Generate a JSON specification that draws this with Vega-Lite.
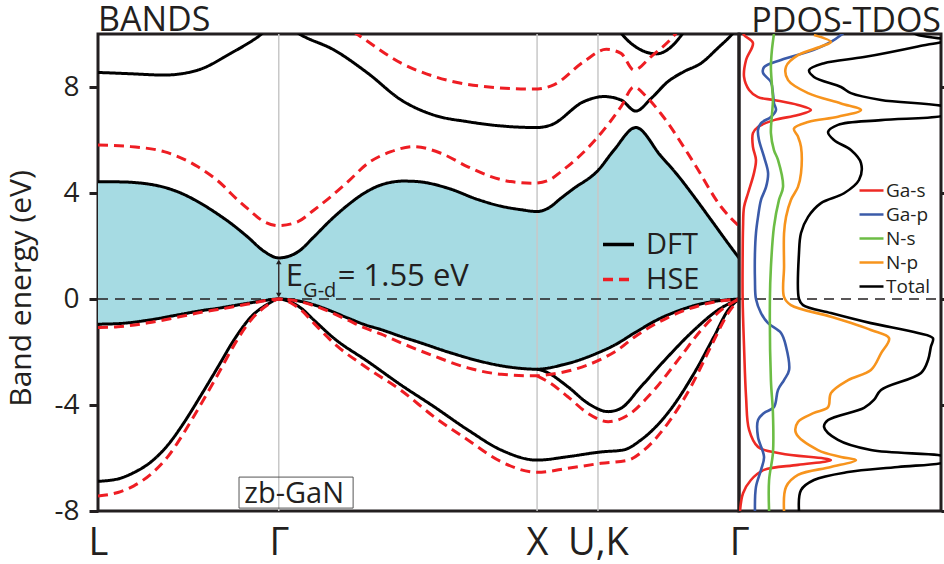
{
  "$schema": "https://vega.github.io/schema/vega-lite/v6.json",
  "padding": {"left": 5, "top": 2, "right": 0, "bottom": 0},
  "bounds": "flush",
  "spacing": 0,
  "config": {
    "font": "Open Sans",
    "view": {"stroke": "#231f20", "strokeWidth": 3},
    "axis": {"labelColor": "#231f20", "titleColor": "#231f20", "tickColor": "#231f20", "grid": false, "domain": false, "labelFont": "Open Sans", "titleFont": "Open Sans", "titleFontWeight": "normal"},
    "title": {"font": "Open Sans", "fontWeight": "normal", "fontSize": 34, "color": "#231f20", "baseline": "alphabetic", "offset": -4.5, "frame": "group"},
    "legend": {"labelFont": "Open Sans", "labelColor": "#231f20", "padding": 0}
  },
  "resolve": {"scale": {"color": "independent", "strokeDash": "independent"}, "legend": {"color": "independent", "strokeDash": "independent"}},
  "datasets": {
    "bands": [
      {"m":"DFT","b":"v3","k":0,"E":-0.95},{"m":"DFT","b":"v3","k":3.1,"E":-0.93},{"m":"DFT","b":"v3","k":7.8,"E":-0.8},{"m":"DFT","b":"v3","k":12.9,"E":-0.58},{"m":"DFT","b":"v3","k":16.1,"E":-0.44},{"m":"DFT","b":"v3","k":18.7,"E":-0.35},{"m":"DFT","b":"v3","k":20.7,"E":-0.27},{"m":"DFT","b":"v3","k":23.4,"E":-0.16},{"m":"DFT","b":"v3","k":25.9,"E":-0.06},{"m":"DFT","b":"v3","k":28.2,"E":0},{"m":"DFT","b":"v3","k":31.2,"E":-0.07},{"m":"DFT","b":"v3","k":33.7,"E":-0.22},{"m":"DFT","b":"v3","k":36.3,"E":-0.45},{"m":"DFT","b":"v3","k":39.0,"E":-0.72},{"m":"DFT","b":"v3","k":41.5,"E":-0.96},{"m":"DFT","b":"v3","k":44.1,"E":-1.15},{"m":"DFT","b":"v3","k":47.7,"E":-1.45},{"m":"DFT","b":"v3","k":49.9,"E":-1.62},{"m":"DFT","b":"v3","k":54.6,"E":-2.0},{"m":"DFT","b":"v3","k":59.3,"E":-2.33},{"m":"DFT","b":"v3","k":62.9,"E":-2.52},{"m":"DFT","b":"v3","k":66.0,"E":-2.62},{"m":"DFT","b":"v3","k":68.5,"E":-2.65},{"m":"DFT","b":"v3","k":70.4,"E":-2.6},{"m":"DFT","b":"v3","k":72.2,"E":-2.5},{"m":"DFT","b":"v3","k":74.1,"E":-2.38},{"m":"DFT","b":"v3","k":78.0,"E":-2.03},{"m":"DFT","b":"v3","k":80.5,"E":-1.75},{"m":"DFT","b":"v3","k":83.9,"E":-1.25},{"m":"DFT","b":"v3","k":87.8,"E":-0.72},{"m":"DFT","b":"v3","k":90.5,"E":-0.45},{"m":"DFT","b":"v3","k":93.0,"E":-0.25},{"m":"DFT","b":"v3","k":95.6,"E":-0.11},{"m":"DFT","b":"v3","k":98.3,"E":-0.03},{"m":"DFT","b":"v3","k":100,"E":0},
      {"m":"DFT","b":"c1","k":0,"E":4.42},{"m":"DFT","b":"c1","k":3.1,"E":4.42},{"m":"DFT","b":"c1","k":7.8,"E":4.34},{"m":"DFT","b":"c1","k":12.9,"E":4.0},{"m":"DFT","b":"c1","k":16.1,"E":3.6},{"m":"DFT","b":"c1","k":18.7,"E":3.2},{"m":"DFT","b":"c1","k":20.7,"E":2.86},{"m":"DFT","b":"c1","k":23.4,"E":2.33},{"m":"DFT","b":"c1","k":25.9,"E":1.8},{"m":"DFT","b":"c1","k":28.2,"E":1.55},{"m":"DFT","b":"c1","k":31.2,"E":1.78},{"m":"DFT","b":"c1","k":33.7,"E":2.35},{"m":"DFT","b":"c1","k":36.3,"E":2.98},{"m":"DFT","b":"c1","k":39.0,"E":3.55},{"m":"DFT","b":"c1","k":41.5,"E":3.99},{"m":"DFT","b":"c1","k":44.1,"E":4.3},{"m":"DFT","b":"c1","k":47.7,"E":4.45},{"m":"DFT","b":"c1","k":49.9,"E":4.43},{"m":"DFT","b":"c1","k":54.6,"E":4.18},{"m":"DFT","b":"c1","k":59.3,"E":3.75},{"m":"DFT","b":"c1","k":62.9,"E":3.5},{"m":"DFT","b":"c1","k":66.0,"E":3.37},{"m":"DFT","b":"c1","k":68.5,"E":3.3},{"m":"DFT","b":"c1","k":70.4,"E":3.45},{"m":"DFT","b":"c1","k":72.2,"E":3.8},{"m":"DFT","b":"c1","k":74.1,"E":4.15},{"m":"DFT","b":"c1","k":78.0,"E":4.85},{"m":"DFT","b":"c1","k":80.5,"E":5.62},{"m":"DFT","b":"c1","k":83.9,"E":6.47},{"m":"DFT","b":"c1","k":87.8,"E":5.4},{"m":"DFT","b":"c1","k":90.5,"E":4.65},{"m":"DFT","b":"c1","k":93.0,"E":3.86},{"m":"DFT","b":"c1","k":95.6,"E":3.0},{"m":"DFT","b":"c1","k":98.3,"E":2.1},{"m":"DFT","b":"c1","k":100,"E":1.55},
      {"m":"DFT","b":"v1","k":0,"E":-6.88},{"m":"DFT","b":"v1","k":3.1,"E":-6.79},{"m":"DFT","b":"v1","k":5.6,"E":-6.55},{"m":"DFT","b":"v1","k":8.3,"E":-6.14},{"m":"DFT","b":"v1","k":10.9,"E":-5.51},{"m":"DFT","b":"v1","k":13.4,"E":-4.67},{"m":"DFT","b":"v1","k":16.1,"E":-3.62},{"m":"DFT","b":"v1","k":18.7,"E":-2.57},{"m":"DFT","b":"v1","k":21.2,"E":-1.55},{"m":"DFT","b":"v1","k":23.9,"E":-0.67},{"m":"DFT","b":"v1","k":26.5,"E":-0.19},{"m":"DFT","b":"v1","k":28.2,"E":0},{"m":"DFT","b":"v1","k":30.1,"E":-0.12},{"m":"DFT","b":"v1","k":31.7,"E":-0.35},{"m":"DFT","b":"v1","k":33.7,"E":-0.8},{"m":"DFT","b":"v1","k":36.8,"E":-1.48},{"m":"DFT","b":"v1","k":42.1,"E":-2.36},{"m":"DFT","b":"v1","k":47.3,"E":-3.25},{"m":"DFT","b":"v1","k":52.4,"E":-4.06},{"m":"DFT","b":"v1","k":57.7,"E":-4.94},{"m":"DFT","b":"v1","k":62.9,"E":-5.7},{"m":"DFT","b":"v1","k":68.5,"E":-6.08},{"m":"DFT","b":"v1","k":73.3,"E":-5.95},{"m":"DFT","b":"v1","k":78.5,"E":-5.77},{"m":"DFT","b":"v1","k":81.9,"E":-5.7},{"m":"DFT","b":"v1","k":84.7,"E":-5.32},{"m":"DFT","b":"v1","k":88.9,"E":-4.3},{"m":"DFT","b":"v1","k":93.0,"E":-2.8},{"m":"DFT","b":"v1","k":96.1,"E":-1.42},{"m":"DFT","b":"v1","k":98.3,"E":-0.42},{"m":"DFT","b":"v1","k":100,"E":0},
      {"m":"DFT","b":"v2","k":68.5,"E":-2.65},{"m":"DFT","b":"v2","k":69.6,"E":-2.72},{"m":"DFT","b":"v2","k":73.3,"E":-3.31},{"m":"DFT","b":"v2","k":76.4,"E":-3.93},{"m":"DFT","b":"v2","k":79.6,"E":-4.25},{"m":"DFT","b":"v2","k":81.6,"E":-4.12},{"m":"DFT","b":"v2","k":84.7,"E":-3.31},{"m":"DFT","b":"v2","k":88.9,"E":-2.18},{"m":"DFT","b":"v2","k":93.0,"E":-1.17},{"m":"DFT","b":"v2","k":96.7,"E":-0.42},{"m":"DFT","b":"v2","k":100,"E":0},
      {"m":"DFT","b":"c2","k":0,"E":8.55},{"m":"DFT","b":"c2","k":5.1,"E":8.5},{"m":"DFT","b":"c2","k":10.3,"E":8.45},{"m":"DFT","b":"c2","k":15.6,"E":8.64},{"m":"DFT","b":"c2","k":20.7,"E":9.27},{"m":"DFT","b":"c2","k":25.0,"E":9.9},{"m":"DFT","b":"c2","k":28.2,"E":10.5},{"m":"DFT","b":"c2","k":31.7,"E":9.96},{"m":"DFT","b":"c2","k":36.8,"E":9.4},{"m":"DFT","b":"c2","k":42.1,"E":8.52},{"m":"DFT","b":"c2","k":47.3,"E":7.51},{"m":"DFT","b":"c2","k":52.4,"E":6.94},{"m":"DFT","b":"c2","k":57.7,"E":6.69},{"m":"DFT","b":"c2","k":62.9,"E":6.53},{"m":"DFT","b":"c2","k":68.5,"E":6.47},{"m":"DFT","b":"c2","k":70.7,"E":6.57},{"m":"DFT","b":"c2","k":75.8,"E":7.45},{"m":"DFT","b":"c2","k":78.9,"E":7.64},{"m":"DFT","b":"c2","k":81.6,"E":7.51},{"m":"DFT","b":"c2","k":83.9,"E":7.09},{"m":"DFT","b":"c2","k":86.3,"E":7.57},{"m":"DFT","b":"c2","k":88.9,"E":8.2},{"m":"DFT","b":"c2","k":91.4,"E":8.58},{"m":"DFT","b":"c2","k":94.1,"E":8.9},{"m":"DFT","b":"c2","k":96.7,"E":9.47},{"m":"DFT","b":"c2","k":98.8,"E":9.96},{"m":"DFT","b":"c2","k":100,"E":10.3},
      {"m":"DFT","b":"c3","k":80.3,"E":10.5},{"m":"DFT","b":"c3","k":81.9,"E":9.95},{"m":"DFT","b":"c3","k":84.7,"E":9.4},{"m":"DFT","b":"c3","k":87.1,"E":9.25},{"m":"DFT","b":"c3","k":89.1,"E":9.45},{"m":"DFT","b":"c3","k":91.0,"E":9.95},{"m":"DFT","b":"c3","k":92.5,"E":10.5},
      {"m":"HSE","b":"v1","k":0,"E":-7.43},{"m":"HSE","b":"v1","k":3.1,"E":-7.3},{"m":"HSE","b":"v1","k":5.6,"E":-7.05},{"m":"HSE","b":"v1","k":8.3,"E":-6.6},{"m":"HSE","b":"v1","k":10.9,"E":-5.95},{"m":"HSE","b":"v1","k":13.4,"E":-5.05},{"m":"HSE","b":"v1","k":16.1,"E":-3.95},{"m":"HSE","b":"v1","k":18.7,"E":-2.85},{"m":"HSE","b":"v1","k":21.2,"E":-1.75},{"m":"HSE","b":"v1","k":23.9,"E":-0.78},{"m":"HSE","b":"v1","k":26.5,"E":-0.22},{"m":"HSE","b":"v1","k":28.2,"E":0},{"m":"HSE","b":"v1","k":30.1,"E":-0.15},{"m":"HSE","b":"v1","k":31.7,"E":-0.42},{"m":"HSE","b":"v1","k":33.7,"E":-0.92},{"m":"HSE","b":"v1","k":36.8,"E":-1.67},{"m":"HSE","b":"v1","k":42.1,"E":-2.62},{"m":"HSE","b":"v1","k":47.3,"E":-3.45},{"m":"HSE","b":"v1","k":52.4,"E":-4.44},{"m":"HSE","b":"v1","k":57.7,"E":-5.32},{"m":"HSE","b":"v1","k":62.9,"E":-6.14},{"m":"HSE","b":"v1","k":68.5,"E":-6.54},{"m":"HSE","b":"v1","k":73.3,"E":-6.39},{"m":"HSE","b":"v1","k":78.5,"E":-6.2},{"m":"HSE","b":"v1","k":82.7,"E":-6.08},{"m":"HSE","b":"v1","k":85.2,"E":-5.7},{"m":"HSE","b":"v1","k":88.9,"E":-4.69},{"m":"HSE","b":"v1","k":92.5,"E":-3.31},{"m":"HSE","b":"v1","k":95.6,"E":-1.8},{"m":"HSE","b":"v1","k":98.3,"E":-0.54},{"m":"HSE","b":"v1","k":100,"E":0},
      {"m":"HSE","b":"v2","k":68.5,"E":-2.9},{"m":"HSE","b":"v2","k":70.4,"E":-3.15},{"m":"HSE","b":"v2","k":73.3,"E":-3.69},{"m":"HSE","b":"v2","k":76.4,"E":-4.31},{"m":"HSE","b":"v2","k":79.6,"E":-4.63},{"m":"HSE","b":"v2","k":82.7,"E":-4.38},{"m":"HSE","b":"v2","k":86.3,"E":-3.56},{"m":"HSE","b":"v2","k":90.5,"E":-2.3},{"m":"HSE","b":"v2","k":94.1,"E":-1.17},{"m":"HSE","b":"v2","k":97.2,"E":-0.42},{"m":"HSE","b":"v2","k":100,"E":0},
      {"m":"HSE","b":"v3","k":0,"E":-1.08},{"m":"HSE","b":"v3","k":3.1,"E":-1.05},{"m":"HSE","b":"v3","k":7.8,"E":-0.9},{"m":"HSE","b":"v3","k":12.9,"E":-0.66},{"m":"HSE","b":"v3","k":16.1,"E":-0.5},{"m":"HSE","b":"v3","k":18.7,"E":-0.4},{"m":"HSE","b":"v3","k":20.7,"E":-0.31},{"m":"HSE","b":"v3","k":23.4,"E":-0.19},{"m":"HSE","b":"v3","k":25.9,"E":-0.07},{"m":"HSE","b":"v3","k":28.2,"E":0},{"m":"HSE","b":"v3","k":31.2,"E":-0.08},{"m":"HSE","b":"v3","k":33.7,"E":-0.25},{"m":"HSE","b":"v3","k":36.3,"E":-0.5},{"m":"HSE","b":"v3","k":39.0,"E":-0.8},{"m":"HSE","b":"v3","k":41.5,"E":-1.08},{"m":"HSE","b":"v3","k":44.1,"E":-1.32},{"m":"HSE","b":"v3","k":47.3,"E":-1.66},{"m":"HSE","b":"v3","k":52.4,"E":-2.15},{"m":"HSE","b":"v3","k":57.7,"E":-2.6},{"m":"HSE","b":"v3","k":62.9,"E":-2.84},{"m":"HSE","b":"v3","k":68.5,"E":-2.9},{"m":"HSE","b":"v3","k":70.4,"E":-2.85},{"m":"HSE","b":"v3","k":73.3,"E":-2.72},{"m":"HSE","b":"v3","k":78.5,"E":-2.27},{"m":"HSE","b":"v3","k":81.1,"E":-1.92},{"m":"HSE","b":"v3","k":83.6,"E":-1.45},{"m":"HSE","b":"v3","k":88.9,"E":-0.7},{"m":"HSE","b":"v3","k":94.1,"E":-0.23},{"m":"HSE","b":"v3","k":98.3,"E":-0.04},{"m":"HSE","b":"v3","k":100,"E":0},
      {"m":"HSE","b":"c1","k":0,"E":5.81},{"m":"HSE","b":"c1","k":5.1,"E":5.75},{"m":"HSE","b":"c1","k":10.3,"E":5.56},{"m":"HSE","b":"c1","k":15.6,"E":4.99},{"m":"HSE","b":"c1","k":19.7,"E":4.24},{"m":"HSE","b":"c1","k":20.7,"E":3.99},{"m":"HSE","b":"c1","k":23.4,"E":3.4},{"m":"HSE","b":"c1","k":25.9,"E":2.92},{"m":"HSE","b":"c1","k":28.2,"E":2.77},{"m":"HSE","b":"c1","k":31.2,"E":2.92},{"m":"HSE","b":"c1","k":33.7,"E":3.36},{"m":"HSE","b":"c1","k":36.3,"E":3.86},{"m":"HSE","b":"c1","k":39.0,"E":4.43},{"m":"HSE","b":"c1","k":42.1,"E":5.12},{"m":"HSE","b":"c1","k":45.7,"E":5.56},{"m":"HSE","b":"c1","k":49.3,"E":5.75},{"m":"HSE","b":"c1","k":53.5,"E":5.5},{"m":"HSE","b":"c1","k":57.7,"E":4.99},{"m":"HSE","b":"c1","k":61.3,"E":4.62},{"m":"HSE","b":"c1","k":64.4,"E":4.43},{"m":"HSE","b":"c1","k":68.0,"E":4.37},{"m":"HSE","b":"c1","k":70.4,"E":4.49},{"m":"HSE","b":"c1","k":72.2,"E":4.8},{"m":"HSE","b":"c1","k":78.0,"E":6.12},{"m":"HSE","b":"c1","k":81.6,"E":7.26},{"m":"HSE","b":"c1","k":83.6,"E":8.0},{"m":"HSE","b":"c1","k":85.5,"E":7.65},{"m":"HSE","b":"c1","k":87.8,"E":7.0},{"m":"HSE","b":"c1","k":93.0,"E":5.12},{"m":"HSE","b":"c1","k":97.2,"E":3.48},{"m":"HSE","b":"c1","k":100,"E":2.75},
      {"m":"HSE","b":"c2","k":31.7,"E":11.5},{"m":"HSE","b":"c2","k":37.9,"E":10.4},{"m":"HSE","b":"c2","k":41.0,"E":9.9},{"m":"HSE","b":"c2","k":47.3,"E":8.9},{"m":"HSE","b":"c2","k":52.4,"E":8.4},{"m":"HSE","b":"c2","k":60.2,"E":8.02},{"m":"HSE","b":"c2","k":68.0,"E":7.92},{"m":"HSE","b":"c2","k":71.1,"E":8.08},{"m":"HSE","b":"c2","k":75.8,"E":8.96},{"m":"HSE","b":"c2","k":79.3,"E":9.42},{"m":"HSE","b":"c2","k":81.6,"E":9.27},{"m":"HSE","b":"c2","k":83.6,"E":8.64},{"m":"HSE","b":"c2","k":86.3,"E":9.15},{"m":"HSE","b":"c2","k":89.9,"E":9.95},{"m":"HSE","b":"c2","k":91.7,"E":10.5}
    ],
    "dos": [
      {"s":"Ga-s","d":1.5,"E":10.2},{"s":"Ga-s","d":2.5,"E":9.96},{"s":"Ga-s","d":6.9,"E":9.66},{"s":"Ga-s","d":3.5,"E":9.02},{"s":"Ga-s","d":2.5,"E":8.38},{"s":"Ga-s","d":5.0,"E":7.89},{"s":"Ga-s","d":9.4,"E":7.62},{"s":"Ga-s","d":17.3,"E":7.51},{"s":"Ga-s","d":29.2,"E":7.32},{"s":"Ga-s","d":35.6,"E":7.13},{"s":"Ga-s","d":29.2,"E":6.94},{"s":"Ga-s","d":17.3,"E":6.75},{"s":"Ga-s","d":9.4,"E":6.49},{"s":"Ga-s","d":6.9,"E":6.26},{"s":"Ga-s","d":6.9,"E":5.74},{"s":"Ga-s","d":8.4,"E":5.25},{"s":"Ga-s","d":7.4,"E":4.75},{"s":"Ga-s","d":4.5,"E":4.0},{"s":"Ga-s","d":2.5,"E":3.47},{"s":"Ga-s","d":2.0,"E":2.72},{"s":"Ga-s","d":1.8,"E":1.5},{"s":"Ga-s","d":1.8,"E":0},{"s":"Ga-s","d":2.5,"E":-1.8},{"s":"Ga-s","d":3.5,"E":-3.7},{"s":"Ga-s","d":5.0,"E":-4.94},{"s":"Ga-s","d":9.4,"E":-5.58},{"s":"Ga-s","d":20.8,"E":-5.83},{"s":"Ga-s","d":45.5,"E":-6.08},{"s":"Ga-s","d":29.2,"E":-6.26},{"s":"Ga-s","d":12.4,"E":-6.45},{"s":"Ga-s","d":5.9,"E":-6.83},{"s":"Ga-s","d":2.0,"E":-7.33},{"s":"Ga-s","d":0.5,"E":-8.0},
      {"s":"Ga-p","d":52.5,"E":10.1},{"s":"Ga-p","d":50.5,"E":9.96},{"s":"Ga-p","d":45.5,"E":9.7},{"s":"Ga-p","d":37.1,"E":9.4},{"s":"Ga-p","d":20.8,"E":9.02},{"s":"Ga-p","d":12.4,"E":8.75},{"s":"Ga-p","d":11.9,"E":8.53},{"s":"Ga-p","d":15.8,"E":8.19},{"s":"Ga-p","d":16.8,"E":7.77},{"s":"Ga-p","d":17.3,"E":7.4},{"s":"Ga-p","d":18.3,"E":7.13},{"s":"Ga-p","d":15.8,"E":6.87},{"s":"Ga-p","d":10.9,"E":6.64},{"s":"Ga-p","d":9.4,"E":6.38},{"s":"Ga-p","d":9.9,"E":6.0},{"s":"Ga-p","d":12.4,"E":5.36},{"s":"Ga-p","d":14.4,"E":4.75},{"s":"Ga-p","d":13.4,"E":4.23},{"s":"Ga-p","d":10.9,"E":3.74},{"s":"Ga-p","d":9.4,"E":3.09},{"s":"Ga-p","d":8.4,"E":2.49},{"s":"Ga-p","d":7.9,"E":1.74},{"s":"Ga-p","d":7.9,"E":0.72},{"s":"Ga-p","d":8.4,"E":0},{"s":"Ga-p","d":10.9,"E":-0.53},{"s":"Ga-p","d":14.4,"E":-0.91},{"s":"Ga-p","d":20.8,"E":-1.28},{"s":"Ga-p","d":23.3,"E":-1.8},{"s":"Ga-p","d":24.8,"E":-2.68},{"s":"Ga-p","d":22.3,"E":-3.06},{"s":"Ga-p","d":19.3,"E":-3.43},{"s":"Ga-p","d":17.3,"E":-4.08},{"s":"Ga-p","d":12.4,"E":-4.3},{"s":"Ga-p","d":9.4,"E":-4.57},{"s":"Ga-p","d":9.4,"E":-5.21},{"s":"Ga-p","d":12.4,"E":-5.96},{"s":"Ga-p","d":10.9,"E":-6.45},{"s":"Ga-p","d":8.4,"E":-7.09},{"s":"Ga-p","d":7.9,"E":-8.0},
      {"s":"N-s","d":17.3,"E":10.0},{"s":"N-s","d":16.3,"E":9.4},{"s":"N-s","d":15.8,"E":8.75},{"s":"N-s","d":16.3,"E":8.08},{"s":"N-s","d":16.8,"E":7.51},{"s":"N-s","d":16.3,"E":6.94},{"s":"N-s","d":15.8,"E":6.26},{"s":"N-s","d":17.3,"E":5.62},{"s":"N-s","d":19.3,"E":5.25},{"s":"N-s","d":21.8,"E":4.23},{"s":"N-s","d":19.8,"E":3.74},{"s":"N-s","d":17.3,"E":2.72},{"s":"N-s","d":15.8,"E":1.21},{"s":"N-s","d":15.3,"E":0},{"s":"N-s","d":15.8,"E":-3.06},{"s":"N-s","d":16.8,"E":-4.3},{"s":"N-s","d":16.8,"E":-5.81},{"s":"N-s","d":14.9,"E":-6.83},{"s":"N-s","d":14.9,"E":-8.0},
      {"s":"N-p","d":37.1,"E":9.96},{"s":"N-p","d":45.5,"E":9.7},{"s":"N-p","d":40.6,"E":9.53},{"s":"N-p","d":29.2,"E":9.2},{"s":"N-p","d":23.3,"E":8.77},{"s":"N-p","d":24.3,"E":8.26},{"s":"N-p","d":34.2,"E":7.77},{"s":"N-p","d":50.5,"E":7.38},{"s":"N-p","d":60.4,"E":7.13},{"s":"N-p","d":49.0,"E":6.88},{"s":"N-p","d":34.2,"E":6.68},{"s":"N-p","d":27.2,"E":6.43},{"s":"N-p","d":29.2,"E":6.13},{"s":"N-p","d":30.7,"E":5.74},{"s":"N-p","d":30.7,"E":4.75},{"s":"N-p","d":29.2,"E":4.23},{"s":"N-p","d":25.7,"E":3.74},{"s":"N-p","d":23.3,"E":3.1},{"s":"N-p","d":22.3,"E":2.48},{"s":"N-p","d":22.3,"E":1.22},{"s":"N-p","d":22.3,"E":0.08},{"s":"N-p","d":25.7,"E":-0.23},{"s":"N-p","d":45.5,"E":-0.67},{"s":"N-p","d":65.3,"E":-1.17},{"s":"N-p","d":74.3,"E":-1.48},{"s":"N-p","d":70.3,"E":-2.05},{"s":"N-p","d":65.3,"E":-2.68},{"s":"N-p","d":54.0,"E":-3.06},{"s":"N-p","d":45.5,"E":-3.55},{"s":"N-p","d":44.1,"E":-4.08},{"s":"N-p","d":37.1,"E":-4.3},{"s":"N-p","d":29.2,"E":-4.64},{"s":"N-p","d":28.2,"E":-5.06},{"s":"N-p","d":39.1,"E":-5.7},{"s":"N-p","d":50.5,"E":-5.96},{"s":"N-p","d":57.9,"E":-6.08},{"s":"N-p","d":45.5,"E":-6.34},{"s":"N-p","d":29.2,"E":-6.64},{"s":"N-p","d":23.3,"E":-7.09},{"s":"N-p","d":22.3,"E":-8.0},
      {"s":"Total","d":85.0,"E":10.1},{"s":"Total","d":88.6,"E":9.96},{"s":"Total","d":102.5,"E":9.77},{"s":"Total","d":88.6,"E":9.53},{"s":"Total","d":61.9,"E":9.13},{"s":"Total","d":42.1,"E":8.9},{"s":"Total","d":34.7,"E":8.64},{"s":"Total","d":37.1,"E":8.38},{"s":"Total","d":50.5,"E":8.0},{"s":"Total","d":55.4,"E":7.77},{"s":"Total","d":70.3,"E":7.51},{"s":"Total","d":102.5,"E":7.25},{"s":"Total","d":105,"E":7.1},{"s":"Total","d":102.5,"E":6.94},{"s":"Total","d":70.3,"E":6.75},{"s":"Total","d":49.0,"E":6.57},{"s":"Total","d":44.1,"E":6.3},{"s":"Total","d":47.0,"E":6.0},{"s":"Total","d":55.4,"E":5.62},{"s":"Total","d":60.4,"E":5.13},{"s":"Total","d":59.4,"E":4.49},{"s":"Total","d":52.0,"E":3.99},{"s":"Total","d":40.6,"E":3.62},{"s":"Total","d":34.2,"E":3.1},{"s":"Total","d":30.7,"E":2.49},{"s":"Total","d":29.7,"E":1.74},{"s":"Total","d":29.7,"E":0},{"s":"Total","d":31.7,"E":-0.23},{"s":"Total","d":45.5,"E":-0.53},{"s":"Total","d":65.3,"E":-0.91},{"s":"Total","d":88.6,"E":-1.28},{"s":"Total","d":96.0,"E":-1.48},{"s":"Total","d":95.0,"E":-1.8},{"s":"Total","d":93.6,"E":-2.3},{"s":"Total","d":90.1,"E":-2.79},{"s":"Total","d":70.3,"E":-3.43},{"s":"Total","d":66.8,"E":-3.81},{"s":"Total","d":61.9,"E":-4.11},{"s":"Total","d":44.1,"E":-4.57},{"s":"Total","d":42.1,"E":-4.83},{"s":"Total","d":49.0,"E":-5.32},{"s":"Total","d":65.3,"E":-5.7},{"s":"Total","d":98.5,"E":-5.89},{"s":"Total","d":105,"E":-6.0},{"s":"Total","d":102.5,"E":-6.15},{"s":"Total","d":78.7,"E":-6.34},{"s":"Total","d":54.0,"E":-6.53},{"s":"Total","d":37.1,"E":-6.83},{"s":"Total","d":30.7,"E":-7.21},{"s":"Total","d":29.7,"E":-8.0}
    ]
  },
  "hconcat": [
    {
      "width": 641,
      "height": 477,
      "title": {"text": "BANDS", "anchor": "start"},
      "encoding": {
        "x": {"field": "k", "type": "quantitative", "title": null, "scale": {"domain": [0, 100], "nice": false, "zero": false},
          "axis": {"values": [0, 28.2, 68.5, 78, 100], "labelExpr": "datum.value == 0 ? 'L' : datum.value == 68.5 ? 'X' : datum.value == 78 ? 'U,K' : 'Γ'", "labelFontSize": 38, "ticks": false, "tickSize": 0, "labelPadding": 43, "labelBaseline": "alphabetic", "labelFlush": false, "labelOverlap": false, "labelBound": false}},
        "y": {"field": "E", "type": "quantitative", "title": "Band energy (eV)", "scale": {"domain": [-8, 10], "nice": false, "zero": false},
          "axis": {"values": [-8, -4, 0, 4, 8], "labelExpr": "datum.value < 0 ? '-' + abs(datum.value) : '' + datum.value", "labelFontSize": 28, "tickSize": 9, "tickWidth": 3, "labelPadding": 10, "titleFontSize": 30, "titlePadding": 17, "titleY": 254}}
      },
      "layer": [
        {
          "data": {"name": "bands"},
          "transform": [{"filter": "datum.m == 'DFT' && (datum.b == 'v3' || datum.b == 'c1')"}, {"pivot": "b", "value": "E", "groupby": ["k"]}],
          "mark": {"type": "area", "color": "#a6dbe3", "interpolate": "monotone", "clip": true},
          "encoding": {
            "y": {"field": "v3", "type": "quantitative", "title": "Band energy (eV)", "scale": {"domain": [-8, 10], "nice": false, "zero": false},
              "axis": {"values": [-8, -4, 0, 4, 8], "labelExpr": "datum.value < 0 ? '-' + abs(datum.value) : '' + datum.value", "labelFontSize": 28, "tickSize": 9, "tickWidth": 3, "labelPadding": 10, "titleFontSize": 30, "titlePadding": 17, "titleY": 254}},
            "y2": {"field": "c1"}
          }
        },
        {
          "data": {"values": [{"k": 28.2, "E": -8, "E2": 10}, {"k": 68.5, "E": -8, "E2": 10}, {"k": 78, "E": -8, "E2": 10}]},
          "mark": {"type": "rule", "color": "#c8c8c8", "strokeWidth": 1.5},
          "encoding": {"y2": {"field": "E2"}}
        },
        {
          "data": {"values": [{"k": 0, "k2": 100, "E": 0}]},
          "mark": {"type": "rule", "color": "#231f20", "strokeWidth": 1.5, "strokeDash": [10, 7]},
          "encoding": {"x2": {"field": "k2"}}
        },
        {
          "data": {"name": "bands"},
          "mark": {"type": "line", "interpolate": "monotone", "strokeWidth": 3, "clip": true},
          "encoding": {
            "detail": {"field": "b"},
            "color": {"field": "m", "type": "nominal", "scale": {"domain": ["DFT", "HSE"], "range": ["#000000", "#ee1d23"]},
              "legend": {"orient": "none", "legendX": 503, "legendY": 193, "title": null, "symbolType": "stroke", "symbolSize": 961, "symbolStrokeWidth": 3.5, "labelFontSize": 29, "labelOffset": 10, "rowPadding": 2}},
            "strokeDash": {"field": "m", "type": "nominal", "scale": {"domain": ["DFT", "HSE"], "range": [[1, 0], [10, 6]]},
              "legend": {"orient": "none", "legendX": 503, "legendY": 193, "title": null, "symbolType": "stroke", "symbolSize": 961, "symbolStrokeWidth": 3.5, "labelFontSize": 29, "labelOffset": 10, "rowPadding": 2}}
          }
        },
        {
          "data": {"values": [{"k": 28.2, "E": 0.15, "E2": 1.4}]},
          "mark": {"type": "rule", "color": "#231f20", "strokeWidth": 1.3},
          "encoding": {"y2": {"field": "E2"}}
        },
        {
          "data": {"values": [{"k": 28.2, "E": 1.4}]},
          "mark": {"type": "point", "shape": "triangle-up", "filled": true, "size": 30, "color": "#231f20", "opacity": 1}
        },
        {
          "data": {"values": [{"k": 28.2, "E": 0.15}]},
          "mark": {"type": "point", "shape": "triangle-down", "filled": true, "size": 30, "color": "#231f20", "opacity": 1}
        },
        {
          "data": {"values": [{"k": 29.3, "E": 0.49, "t": "E"}, {"k": 37.4, "E": 0.49, "t": "= 1.55 eV"}]},
          "mark": {"type": "text", "align": "left", "baseline": "alphabetic", "fontSize": 31, "color": "#231f20"},
          "encoding": {"text": {"field": "t"}}
        },
        {
          "data": {"values": [{"k": 32.0, "E": 0.07, "t": "G-d"}]},
          "mark": {"type": "text", "align": "left", "baseline": "alphabetic", "fontSize": 20, "color": "#231f20"},
          "encoding": {"text": {"field": "t"}}
        },
        {
          "data": {"values": [{"k": 30.6, "E": -7.68, "t": "zb-GaN"}]},
          "mark": {"type": "text", "align": "center", "baseline": "alphabetic", "fontSize": 29, "color": "#231f20"},
          "encoding": {"text": {"field": "t"}}
        },
        {
          "data": {"values": [{"k": 22.0, "k2": 39.8, "E": -6.72, "E2": -7.89}]},
          "mark": {"type": "rect", "fill": "transparent", "stroke": "#555555", "strokeWidth": 1},
          "encoding": {"x2": {"field": "k2"}, "y2": {"field": "E2"}}
        }
      ]
    },
    {
      "width": 202,
      "height": 477,
      "title": {"text": "PDOS-TDOS", "anchor": "end"},
      "encoding": {
        "x": {"field": "d", "type": "quantitative", "title": null, "scale": {"domain": [0, 100], "nice": false, "zero": false}, "axis": null},
        "y": {"field": "E", "type": "quantitative", "title": null, "scale": {"domain": [-8, 10], "nice": false, "zero": false},
          "axis": {"orient": "right", "labels": false, "values": [-8, -4, 0, 4, 8], "tickSize": 4, "tickWidth": 3, "title": null}}
      },
      "layer": [
        {
          "data": {"values": [{"d": 0, "d2": 100, "E": 0}]},
          "mark": {"type": "rule", "color": "#231f20", "strokeWidth": 1.5, "strokeDash": [10, 7]},
          "encoding": {"x2": {"field": "d2"}}
        },
        {
          "data": {"name": "dos"},
          "mark": {"type": "line", "interpolate": "catmull-rom", "strokeWidth": 2.6, "clip": true},
          "encoding": {
            "order": {"field": "E", "sort": "descending"},
            "color": {"field": "s", "type": "nominal", "scale": {"domain": ["Ga-s", "Ga-p", "N-s", "N-p", "Total"], "range": ["#ee2a24", "#3b5ba9", "#6cbd45", "#f7941d", "#000000"]},
              "legend": {"orient": "none", "legendX": 119, "legendY": 143, "title": null, "symbolType": "stroke", "symbolSize": 576, "symbolStrokeWidth": 2.5, "labelFontSize": 19, "labelOffset": 1, "rowPadding": -2}}
          }
        }
      ]
    }
  ]
}
